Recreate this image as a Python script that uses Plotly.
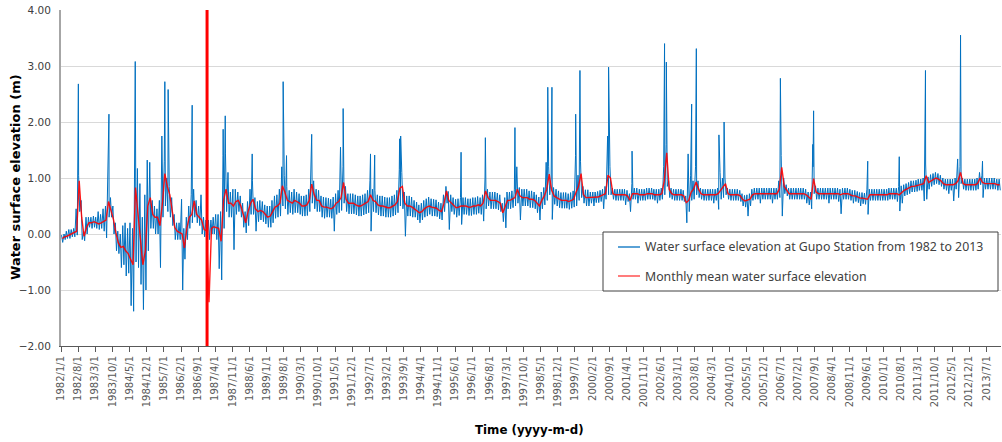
import plotly.graph_objects as go

years = list(range(1982, 2014))

# Monthly mean water surface elevation (m), Jan..Dec for each year 1982-2013
monthly_mean = [
    -0.08, -0.05, -0.04, -0.02, 0.0, 0.02, 0.05, 0.95, 0.3, -0.04, 0.12, 0.2,      # 1982
    0.2, 0.22, 0.2, 0.18, 0.2, 0.22, 0.25, 0.58, 0.42, 0.26, 0.02, -0.16,          # 1983
    -0.24, -0.22, -0.3, -0.35, -0.45, -0.55, 0.83, 0.35, -0.1, -0.55, -0.3, 0.5,   # 1984
    0.65, 0.35, 0.3, 0.3, 0.15, 0.55, 1.08, 0.85, 0.7, 0.4, 0.12, 0.05,            # 1985
    0.02, 0.0, -0.25, 0.1, 0.3, 0.35, 0.59, 0.35, 0.3, 0.25, 0.08, 0.06,           # 1986
    -1.22, 0.1, 0.13, 0.12, 0.1, -0.13, 0.6, 0.8, 0.55, 0.55, 0.5, 0.58,           # 1987
    0.6, 0.5, 0.35, 0.2, 0.4, 0.55, 0.62, 0.45, 0.4, 0.42, 0.4, 0.35,              # 1988
    0.3, 0.32, 0.4, 0.48, 0.5, 0.55, 0.86, 0.75, 0.6, 0.58, 0.55, 0.6,             # 1989
    0.58, 0.55, 0.5, 0.5, 0.52, 0.6, 0.89, 0.7, 0.6, 0.6, 0.5, 0.48,               # 1990
    0.48, 0.47, 0.45, 0.48, 0.55, 0.58, 0.65, 0.92, 0.62, 0.55, 0.55, 0.55,        # 1991
    0.52, 0.5, 0.5, 0.52, 0.55, 0.58, 0.7, 0.6, 0.58, 0.52, 0.5, 0.5,              # 1992
    0.48, 0.47, 0.47, 0.5, 0.52, 0.58, 0.82, 0.85, 0.55, 0.5, 0.5, 0.48,           # 1993
    0.45, 0.42, 0.38, 0.4, 0.45, 0.48, 0.5, 0.48, 0.47, 0.46, 0.42, 0.4,           # 1994
    0.55, 0.77, 0.6, 0.55, 0.5, 0.47, 0.48, 0.5, 0.5, 0.5, 0.48, 0.48,             # 1995
    0.5, 0.5, 0.52, 0.5, 0.55, 0.77, 0.65, 0.6, 0.6, 0.6, 0.58, 0.55,              # 1996
    0.38, 0.5, 0.6, 0.6, 0.62, 0.65, 0.8, 0.68, 0.65, 0.65, 0.65, 0.62,            # 1997
    0.62, 0.6, 0.55, 0.5, 0.6, 0.68, 0.8, 1.07, 0.78, 0.68, 0.65, 0.62,            # 1998
    0.6, 0.6, 0.6, 0.58, 0.6, 0.62, 0.75, 0.85, 1.08, 0.7, 0.65, 0.65,             # 1999
    0.65, 0.65, 0.65, 0.66, 0.68, 0.7, 0.72, 1.05, 1.0, 0.72, 0.7, 0.7,            # 2000
    0.7, 0.7, 0.7, 0.68, 0.6, 0.72, 0.72, 0.72, 0.7, 0.7, 0.7, 0.72,               # 2001
    0.72, 0.72, 0.7, 0.7, 0.7, 0.72, 0.95, 1.45, 0.8, 0.72, 0.7, 0.7,              # 2002
    0.7, 0.7, 0.68, 0.56, 0.6, 0.75, 0.8, 0.93, 0.8, 0.72, 0.7, 0.7,               # 2003
    0.7, 0.7, 0.7, 0.7, 0.72, 0.78, 0.85, 0.9, 0.72, 0.7, 0.7, 0.7,                # 2004
    0.7, 0.68, 0.62, 0.59, 0.6, 0.62, 0.7, 0.72, 0.72, 0.72, 0.72, 0.72,           # 2005
    0.72, 0.72, 0.72, 0.72, 0.72, 0.8, 1.19, 0.85, 0.78, 0.72, 0.72, 0.72,         # 2006
    0.72, 0.72, 0.72, 0.72, 0.7, 0.65, 0.62, 0.99, 0.75, 0.72, 0.72, 0.72,         # 2007
    0.72, 0.72, 0.72, 0.72, 0.72, 0.72, 0.7, 0.72, 0.72, 0.72, 0.7, 0.68,          # 2008
    0.68, 0.66, 0.64, 0.64, 0.63, 0.62, 0.7, 0.7, 0.7, 0.7, 0.7, 0.7,              # 2009
    0.7, 0.7, 0.72, 0.72, 0.72, 0.72, 0.7, 0.75, 0.78, 0.8, 0.82, 0.85,            # 2010
    0.85, 0.86, 0.88, 0.88, 0.9, 1.04, 0.92, 0.95, 0.98, 1.0, 0.98, 0.95,          # 2011
    0.9, 0.88, 0.88, 0.88, 0.88, 0.9, 0.95, 1.1, 0.9, 0.88, 0.88, 0.88,            # 2012
    0.88, 0.88, 0.9, 1.0, 0.92, 0.9, 0.9, 0.9, 0.9, 0.9, 0.88, 0.88,               # 2013
]

# Daily record, upper envelope read per month (m)
blue_hi = [
    -0.02, 0.0, 0.05, 0.08, 0.08, 0.1, 0.45, 1.05, 0.6, 0.05, 0.3, 0.3,            # 1982
    0.3, 0.32, 0.3, 0.4, 0.35, 0.45, 0.5, 1.03, 0.65, 0.5, 0.2, 0.05,              # 1983
    0.0, 0.15, 0.2, 0.1, 0.2, 0.1, 0.88, 1.17, 0.9, 0.3, 0.7, 1.32,                # 1984
    1.28, 0.6, 0.5, 0.45, 0.6, 1.75, 1.3, 1.0, 0.85, 0.65, 0.35, 0.2,              # 1985
    0.2, 0.62, 0.1, 0.3, 0.5, 0.7, 0.8, 0.6, 0.5, 0.7, 0.3, 0.25,                  # 1986
    0.25, 0.25, 0.3, 0.35, 0.35, 0.4, 1.4, 1.43, 1.1, 0.75, 0.8, 0.8,              # 1987
    0.75, 0.68, 0.55, 0.4, 0.58, 0.8, 0.95, 0.65, 0.58, 0.6, 0.58, 0.52,           # 1988
    0.5, 0.5, 0.6, 0.68, 0.7, 0.8, 1.2, 1.05, 0.85, 0.78, 0.75, 0.8,               # 1989
    0.75, 0.72, 0.68, 0.68, 0.7, 0.8, 1.2, 0.95, 0.8, 0.78, 0.68, 0.66,            # 1990
    0.65, 0.64, 0.62, 0.66, 0.72, 0.78, 1.55, 1.2, 0.85, 0.72, 0.72, 0.72,         # 1991
    0.7, 0.68, 0.68, 0.7, 0.72, 0.78, 0.95, 0.8, 0.78, 0.7, 0.68, 0.68,            # 1992
    0.66, 0.65, 0.65, 0.68, 0.7, 0.78, 1.15, 1.1, 0.75, 0.68, 0.68, 0.66,          # 1993
    0.6, 0.57, 0.52, 0.55, 0.6, 0.63, 0.66, 0.63, 0.62, 0.61, 0.57, 0.55,          # 1994
    0.7, 0.85, 0.76, 0.7, 0.65, 0.62, 0.63, 0.65, 0.65, 0.65, 0.63, 0.63,          # 1995
    0.65, 0.65, 0.67, 0.65, 0.7, 1.0, 0.8, 0.75, 0.75, 0.75, 0.73, 0.7,            # 1996
    0.55, 0.65, 0.75, 0.75, 0.77, 0.8, 1.2, 0.83, 0.8, 0.8, 0.8, 0.77,             # 1997
    0.77, 0.75, 0.7, 0.66, 0.75, 0.83, 1.28, 1.2, 1.0, 0.83, 0.8, 0.77,            # 1998
    0.74, 0.74, 0.74, 0.72, 0.74, 0.77, 1.4, 1.05, 1.3, 0.85, 0.79, 0.79,          # 1999
    0.75, 0.75, 0.75, 0.76, 0.78, 0.8, 0.85, 1.3, 1.2, 0.82, 0.8, 0.8,             # 2000
    0.8, 0.8, 0.8, 0.78, 0.72, 0.9, 0.82, 0.82, 0.8, 0.8, 0.8, 0.82,               # 2001
    0.82, 0.82, 0.8, 0.8, 0.8, 0.82, 1.2, 1.6, 0.95, 0.82, 0.8, 0.8,               # 2002
    0.8, 0.8, 0.78, 0.68, 1.43, 1.05, 0.95, 1.2, 0.95, 0.82, 0.8, 0.8,             # 2003
    0.8, 0.8, 0.8, 0.8, 0.82, 1.1, 1.0, 1.0, 0.82, 0.8, 0.8, 0.8,                  # 2004
    0.8, 0.78, 0.72, 0.69, 0.7, 0.72, 0.8, 0.82, 0.82, 0.82, 0.82, 0.82,           # 2005
    0.82, 0.82, 0.82, 0.82, 0.82, 0.95, 1.4, 1.0, 0.88, 0.82, 0.82, 0.82,          # 2006
    0.82, 0.82, 0.82, 0.82, 0.8, 0.75, 0.75, 1.2, 0.86, 0.82, 0.82, 0.82,          # 2007
    0.82, 0.82, 0.82, 0.82, 0.82, 0.82, 0.8, 0.82, 0.82, 0.82, 0.8, 0.78,          # 2008
    0.78, 0.76, 0.74, 0.74, 0.73, 0.8, 0.8, 0.8, 0.8, 0.8, 0.8, 0.8,               # 2009
    0.8, 0.8, 0.82, 0.82, 0.82, 0.82, 0.85, 0.86, 0.88, 0.9, 0.92, 0.95,           # 2010
    0.95, 0.96, 0.98, 0.98, 1.0, 1.25, 1.02, 1.06, 1.08, 1.1, 1.08, 1.05,          # 2011
    1.0, 0.98, 0.98, 0.98, 0.98, 1.0, 1.34, 1.2, 1.0, 0.98, 0.98, 0.98,            # 2012
    0.98, 0.98, 1.0, 1.1, 1.05, 1.0, 1.0, 1.0, 1.0, 1.0, 0.98, 0.98,               # 2013
]

# Daily record, lower envelope read per month (m)
blue_lo = [
    -0.15, -0.1, -0.08, -0.08, -0.05, -0.05, -0.02, 0.4, -0.1, -0.12, 0.0, 0.12,   # 1982
    0.1, 0.12, 0.1, 0.08, 0.1, 0.05, -0.07, 0.3, 0.3, 0.0, -0.3, -0.35,            # 1983
    -0.6, -0.55, -0.75, -0.7, -1.28, -1.38, -0.5, -0.6, -0.9, -1.35, -1.0, -0.3,   # 1984
    0.1, 0.1, 0.0, 0.0, -0.6, 0.3, 0.5, 0.4, 0.3, 0.15, -0.1, -0.1,                # 1985
    -0.1, -1.0, -0.45, -0.1, 0.1, 0.2, 0.3, 0.2, 0.15, 0.0, -0.05, -0.05,          # 1986
    -0.1, 0.0, 0.0, -0.1, -0.62, -0.82, 0.1, 0.4, 0.3, 0.3, -0.28, 0.35,           # 1987
    0.4, 0.3, 0.12, 0.02, 0.15, 0.35, 0.35, 0.05, 0.22, 0.25, 0.22, 0.18,          # 1988
    0.12, 0.12, 0.2, 0.28, 0.3, 0.32, 0.5, 0.45, 0.35, 0.38, 0.35, 0.38,           # 1989
    0.38, 0.35, 0.32, 0.32, 0.33, 0.4, 0.55, 0.45, 0.4, 0.4, 0.3, 0.28,            # 1990
    0.3, 0.3, 0.28, 0.05, 0.35, 0.38, 0.42, 0.55, 0.4, 0.36, 0.36, 0.36,           # 1991
    0.34, 0.32, 0.32, 0.34, 0.36, 0.38, 0.05, 0.4, 0.38, 0.34, 0.32, 0.32,         # 1992
    0.3, 0.3, 0.3, 0.32, 0.34, 0.38, 0.5, 0.45, -0.04, 0.32, 0.32, 0.3,            # 1993
    0.3, 0.25, 0.2, 0.25, 0.3, 0.32, 0.35, 0.32, 0.32, 0.31, 0.27, 0.25,           # 1994
    0.4, 0.55, 0.08, 0.4, 0.35, 0.3, 0.33, 0.17, 0.35, 0.35, 0.33, 0.33,           # 1995
    0.35, 0.35, 0.37, 0.35, 0.23, 0.45, 0.5, 0.45, 0.45, 0.45, 0.43, 0.4,          # 1996
    0.22, 0.11, 0.45, 0.45, 0.47, 0.5, 0.55, 0.25, 0.5, 0.5, 0.5, 0.47,            # 1997
    0.47, 0.45, 0.38, 0.25, 0.45, 0.52, 0.6, 0.7, 0.26, 0.53, 0.5, 0.47,           # 1998
    0.46, 0.46, 0.46, 0.44, 0.46, 0.48, 0.5, 0.6, 0.65, 0.55, 0.5, 0.5,            # 1999
    0.55, 0.5, 0.56, 0.56, 0.58, 0.45, 0.62, 0.7, 0.7, 0.62, 0.6, 0.6,             # 2000
    0.6, 0.6, 0.52, 0.58, 0.4, 0.62, 0.62, 0.55, 0.6, 0.6, 0.6, 0.62,              # 2001
    0.62, 0.62, 0.6, 0.55, 0.6, 0.62, 0.7, 0.85, 0.65, 0.62, 0.6, 0.6,             # 2002
    0.6, 0.6, 0.58, 0.2, 0.4, 0.6, 0.62, 0.7, 0.65, 0.62, 0.6, 0.6,                # 2003
    0.6, 0.6, 0.55, 0.6, 0.44, 0.62, 0.65, 0.7, 0.62, 0.6, 0.6, 0.6,               # 2004
    0.6, 0.58, 0.5, 0.48, 0.32, 0.5, 0.6, 0.62, 0.62, 0.55, 0.62, 0.62,            # 2005
    0.62, 0.62, 0.55, 0.62, 0.62, 0.65, 0.32, 0.72, 0.68, 0.62, 0.62, 0.62,        # 2006
    0.62, 0.62, 0.62, 0.62, 0.55, 0.52, 0.45, 0.72, 0.62, 0.62, 0.62, 0.62,        # 2007
    0.62, 0.55, 0.62, 0.62, 0.62, 0.58, 0.36, 0.62, 0.62, 0.62, 0.6, 0.55,         # 2008
    0.58, 0.56, 0.5, 0.54, 0.53, 0.35, 0.6, 0.6, 0.6, 0.6, 0.6, 0.6,               # 2009
    0.6, 0.6, 0.62, 0.62, 0.62, 0.58, 0.41, 0.55, 0.68, 0.7, 0.72, 0.75,           # 2010
    0.75, 0.76, 0.78, 0.78, 0.59, 0.62, 0.8, 0.85, 0.88, 0.9, 0.88, 0.85,          # 2011
    0.8, 0.78, 0.72, 0.78, 0.59, 0.8, 0.65, 0.9, 0.8, 0.78, 0.78, 0.78,            # 2012
    0.78, 0.78, 0.8, 0.88, 0.65, 0.8, 0.8, 0.8, 0.8, 0.8, 0.78, 0.78,              # 2013
]

# Flood peaks in the daily record
spike_dates = [
    "1982-08-05", "1983-08-20", "1984-07-05", "1984-07-12", "1985-07-15", "1985-08-25",
    "1986-06-20", "1987-07-10", "1987-08-05", "1988-07-05", "1989-07-25", "1989-09-05",
    "1990-07-15", "1991-08-10", "1992-07-15", "1992-09-05", "1993-07-12", "1993-07-25",
    "1995-08-15", "1996-06-12", "1997-06-15", "1998-07-28", "1998-09-18", "1999-07-10",
    "1999-09-01", "2000-08-10", "2000-08-22", "2001-06-10", "2002-07-19", "2002-08-10",
    "2003-06-21", "2003-08-12", "2003-08-18", "2004-05-25", "2004-07-28", "2006-06-28",
    "2007-08-05", "2007-08-15", "2009-06-18", "2010-07-15", "2011-06-06", "2012-07-10",
    "2012-08-15", "2013-05-15",
]
spike_vals = [
    2.68, 2.14, 2.85, 3.08, 2.72, 2.58,
    2.30, 1.87, 2.11, 1.43, 2.72, 1.40,
    1.78, 2.24, 1.43, 1.41, 1.70, 1.75,
    1.46, 1.72, 1.90, 2.62, 2.62, 2.14,
    2.92, 1.75, 2.98, 1.48, 3.40, 3.07,
    2.32, 1.70, 3.31, 1.77, 2.00, 2.78,
    1.60, 2.20, 1.30, 1.38, 2.92, 1.34,
    3.55, 1.30,
]

tick_labels = [
    "1982/1/1", "1982/8/1", "1983/3/1", "1983/10/1", "1984/5/1", "1984/12/1", "1985/7/1",
    "1986/2/1", "1986/9/1", "1987/4/1", "1987/11/1", "1988/6/1", "1989/1/1", "1989/8/1",
    "1990/3/1", "1990/10/1", "1991/5/1", "1991/12/1", "1992/7/1", "1993/2/1", "1993/9/1",
    "1994/4/1", "1994/11/1", "1995/6/1", "1996/1/1", "1996/8/1", "1997/3/1", "1997/10/1",
    "1998/5/1", "1998/12/1", "1999/7/1", "2000/2/1", "2000/9/1", "2001/4/1", "2001/11/1",
    "2002/6/1", "2003/1/1", "2003/8/1", "2004/3/1", "2004/10/1", "2005/5/1", "2005/12/1",
    "2006/7/1", "2007/2/1", "2007/9/1", "2008/4/1", "2008/11/1", "2009/6/1", "2010/1/1",
    "2010/8/1", "2011/3/1", "2011/10/1", "2012/5/1", "2012/12/1", "2013/7/1",
]

marker_date = "1986-12-22"

# ---- build series ----
mean_x = [f"{y}-{m:02d}-15" for y in years for m in range(1, 13)]

pts = []
k = 0
for y in years:
    for m in range(1, 13):
        pts.append((f"{y}-{m:02d}-08", blue_hi[k]))
        pts.append((f"{y}-{m:02d}-22", blue_lo[k]))
        k += 1
pts += list(zip(spike_dates, spike_vals))
pts.sort()
blue_x = [p[0] for p in pts]
blue_y = [p[1] for p in pts]

tick_vals = []
for t in tick_labels:
    yy, mm, dd = t.split("/")
    tick_vals.append(f"{yy}-{int(mm):02d}-{int(dd):02d}")

fig = go.Figure()
fig.add_trace(go.Scatter(x=blue_x, y=blue_y, mode="lines",
                         line=dict(color="#0070C0", width=1),
                         name="Water surface elevation at Gupo Station from 1982 to 2013",
                         showlegend=False, hoverinfo="skip"))
fig.add_trace(go.Scatter(x=mean_x, y=monthly_mean, mode="lines",
                         line=dict(color="rgba(255,0,0,0.9)", width=1.4),
                         name="Monthly mean water surface elevation",
                         showlegend=False, hoverinfo="skip"))

# vertical red marker
fig.add_shape(type="line", xref="x", yref="y", x0=marker_date, x1=marker_date,
              y0=-2, y1=4, line=dict(color="#FF0000", width=3))

L, T, PW, PH = 61, 10, 940, 336


def px(xp):
    return (xp - L) / PW


def py(yp):
    return (T + PH - yp) / PH


# legend box (manual)
fig.add_shape(type="rect", xref="paper", yref="paper",
              x0=px(603), x1=px(998), y0=py(291), y1=py(232),
              line=dict(color="#404040", width=1), fillcolor="white", layer="above")
fig.add_shape(type="line", xref="paper", yref="paper",
              x0=px(618), x1=px(640), y0=py(247), y1=py(247),
              line=dict(color="#0070C0", width=1.3), layer="above")
fig.add_shape(type="line", xref="paper", yref="paper",
              x0=px(618), x1=px(640), y0=py(276), y1=py(276),
              line=dict(color="rgba(255,80,80,1)", width=1.5), layer="above")
legend_font = dict(family="Noto Sans", size=12.3, color="#404040")
fig.add_annotation(xref="paper", yref="paper", x=px(643), y=py(247), xanchor="left",
                   yanchor="middle", showarrow=False, font=legend_font,
                   text="Water surface elevation at Gupo Station from 1982 to 2013")
fig.add_annotation(xref="paper", yref="paper", x=px(643), y=py(276), xanchor="left",
                   yanchor="middle", showarrow=False, font=legend_font,
                   text="Monthly mean water surface elevation")

# axis titles
fig.add_annotation(xref="paper", yref="paper", x=px(15), y=py(177), xanchor="center",
                   yanchor="middle", showarrow=False, textangle=-90,
                   font=dict(family="DejaVu Sans", size=13, color="#000000"),
                   text="<b>Water surface elevation (m)</b>")
fig.add_annotation(xref="paper", yref="paper", x=px(529), y=py(430), xanchor="center",
                   yanchor="middle", showarrow=False,
                   font=dict(family="DejaVu Sans", size=11.8, color="#000000"),
                   text="<b>Time (yyyy-m-d)</b>")

fig.update_layout(
    width=1002, height=442,
    margin=dict(l=L, r=1002 - L - PW, t=T, b=442 - T - PH),
    paper_bgcolor="white", plot_bgcolor="white",
    showlegend=False,
    xaxis=dict(type="date", range=["1982-01-01", "2013-12-31"],
               tickmode="array", tickvals=tick_vals, ticktext=tick_labels,
               tickangle=-90, ticks="outside", ticklen=5, tickcolor="#595959",
               showline=True, linecolor="#595959", linewidth=1,
               showgrid=False, zeroline=False,
               tickfont=dict(family="DejaVu Sans", size=10, color="#595959")),
    yaxis=dict(range=[-2, 4], tickmode="linear", tick0=-2, dtick=1, tickformat=".2f",
               showline=True, linecolor="#A6A6A6", linewidth=2,
               showgrid=True, gridcolor="#D9D9D9", gridwidth=1, zeroline=False,
               ticks="", ticklabelstandoff=6,
               tickfont=dict(family="DejaVu Sans", size=10.5, color="#404040")),
)

fig.write_html("out.html", config={"displayModeBar": False},
               post_script="document.body.style.margin='0';")
